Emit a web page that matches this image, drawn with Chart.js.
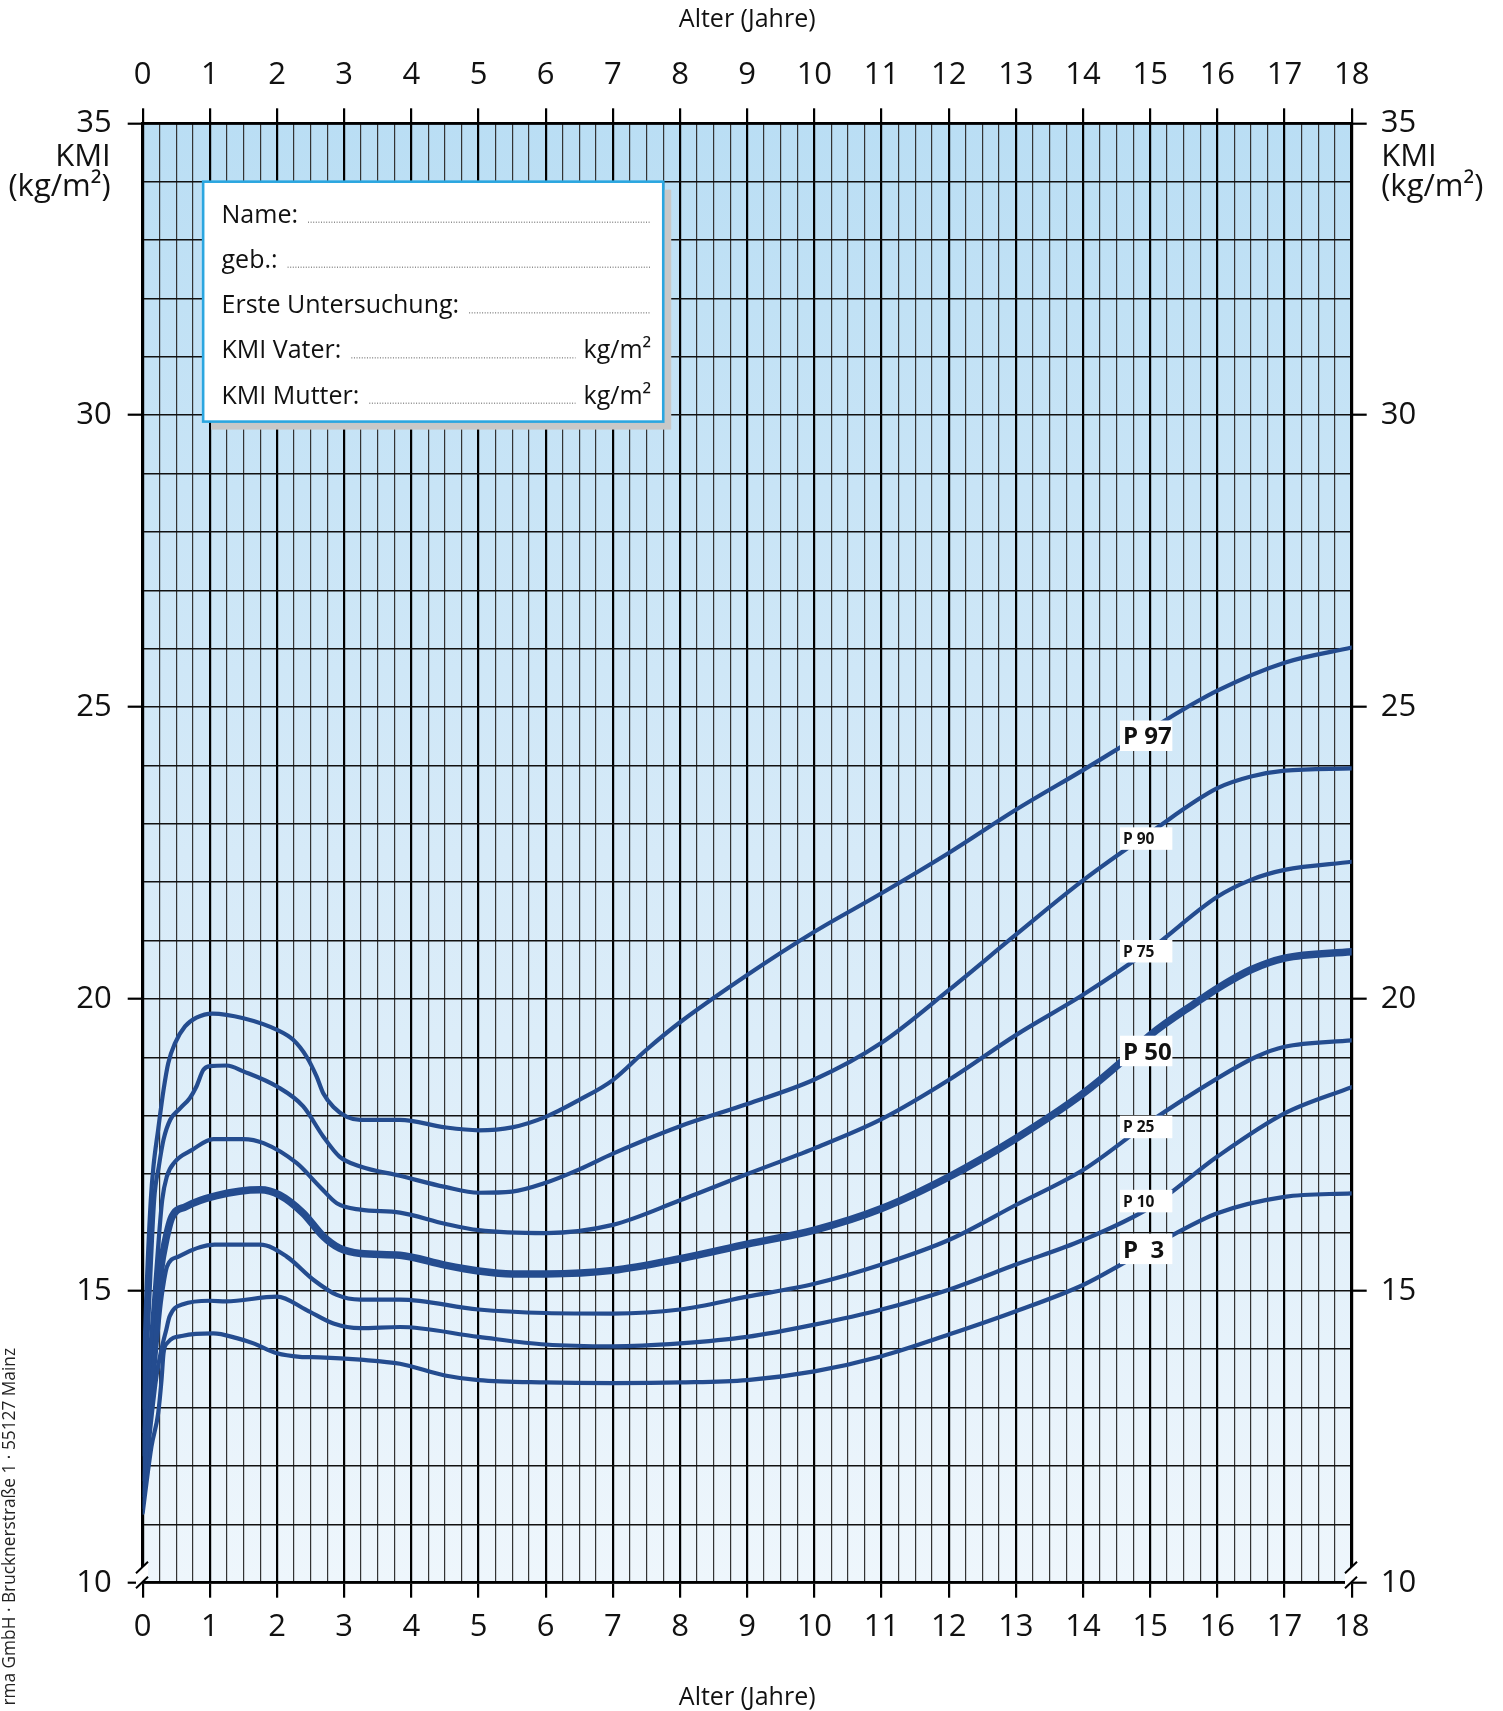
<!DOCTYPE html>
<html>
<head>
<meta charset="utf-8">
<script src="https://cdn.jsdelivr.net/npm/chart.js@4.4.1/dist/chart.umd.min.js"></script>
<style>
html,body{margin:0;padding:0;background:#fff;}
#wrap{position:relative;width:1503px;height:1711px;}
</style>
</head>
<body>
<div id="wrap"><canvas id="c"></canvas></div>
<script>
// ---------------- DATA ----------------
const ageTickLabels = [0,1,2,3,4,5,6,7,8,9,10,11,12,13,14,15,16,17,18];
const bmiTickLabels = [10,15,20,25,30,35];
const axisTitle = 'Alter (Jahre)';
const yUnitLines = ['KMI', '(kg/m\u00B2)'];
const footerText = 'rma GmbH \u00B7 Brucknerstra\u00DFe 1 \u00B7 55127 Mainz';
const infoRows = ['Name:', 'geb.:', 'Erste Untersuchung:', 'KMI Vater:', 'KMI Mutter:'];
const infoUnits = ['', '', '', 'kg/m\u00B2', 'kg/m\u00B2'];

const percentileNames = ['P 97', 'P 90', 'P 75', 'P 50', 'P 25', 'P 10', 'P  3'];

const p97Age = [0,0.05,0.12,0.16,0.23,0.31,0.38,0.48,0.63,0.8,1.04,1.5,2.0,2.24,2.44,2.59,2.69,2.84,3.04,3.24,3.83,4.5,5,5.5,6,6.5,7,7.5,8,9,10,11,12,13,14,15,16,17,18];
const p97Bmi = [13.0,14.8,16.55,17.13,17.76,18.44,18.9,19.24,19.53,19.68,19.75,19.67,19.47,19.3,19.01,18.67,18.38,18.15,17.98,17.93,17.93,17.8,17.75,17.8,17.98,18.27,18.61,19.13,19.6,20.41,21.15,21.81,22.5,23.24,23.92,24.62,25.28,25.76,26.02];

const p90Age = [0,0.08,0.17,0.24,0.31,0.41,0.56,0.7,0.8,0.9,1.0,1.25,1.5,2.0,2.39,2.69,2.93,3.24,3.83,4.5,5,5.5,6,6.5,7,8,9,10,11,12,13,14,15,16,16.5,17,18];
const p90Bmi = [12.6,14.4,16.55,17.13,17.59,17.93,18.13,18.3,18.5,18.78,18.85,18.86,18.76,18.5,18.16,17.64,17.3,17.13,16.97,16.78,16.68,16.7,16.85,17.08,17.35,17.82,18.2,18.62,19.25,20.15,21.1,22.03,22.85,23.61,23.81,23.91,23.95];

const p75Age = [0,0.1,0.2,0.29,0.36,0.48,0.73,1.05,1.5,1.8,2.29,2.64,2.89,3.24,3.83,4.5,5,6,7,8,9,10,11,12,13,14,15,16,16.5,17,18];
const p75Bmi = [12.2,13.8,15.3,16.55,16.96,17.21,17.41,17.6,17.6,17.53,17.19,16.78,16.5,16.39,16.34,16.15,16.04,15.99,16.13,16.55,17.0,17.44,17.94,18.61,19.38,20.07,20.85,21.75,22.04,22.21,22.35];

const p50Age = [0,0.1,0.2,0.27,0.33,0.43,0.64,1.1,1.75,2.04,2.39,2.69,2.93,3.24,3.83,4.5,5,5.5,6,7,8,9,10,11,12,13,14,14.55,15,15.7,16,16.5,17,18];
const p50Bmi = [11.8,13.3,14.6,15.4,15.8,16.25,16.44,16.63,16.73,16.64,16.33,15.93,15.73,15.64,15.61,15.44,15.34,15.29,15.29,15.35,15.55,15.8,16.04,16.41,16.95,17.61,18.38,18.9,19.38,19.95,20.18,20.5,20.7,20.81];

const p25Age = [0,0.1,0.2,0.27,0.32,0.36,0.54,1.07,1.75,2.14,2.54,2.89,3.24,3.83,5,6,7,8,9,10,11,12,13,14,15,16,16.58,17,18];
const p25Bmi = [11.5,12.8,14.0,14.8,15.19,15.41,15.59,15.79,15.79,15.59,15.19,14.93,14.85,14.85,14.68,14.62,14.61,14.68,14.9,15.12,15.45,15.87,16.47,17.07,17.9,18.64,19.01,19.18,19.29];

const p10Age = [0,0.1,0.2,0.28,0.35,0.4,0.6,1.0,1.24,2.0,2.44,2.84,3.24,3.83,5,6,7,8,9,10,11,12,13,14,15,16,17,18];
const p10Bmi = [11.3,12.5,13.5,14.0,14.33,14.56,14.77,14.83,14.82,14.9,14.67,14.44,14.36,14.38,14.21,14.08,14.05,14.1,14.21,14.42,14.68,15.02,15.45,15.87,16.43,17.3,18.04,18.49];

const p3Age = [0,0.13,0.23,0.28,0.31,0.36,0.6,1.05,1.4,1.65,2.0,2.34,2.64,3.24,3.83,4.5,5,6,7,8,9,10,11,12,13,14,14.55,15.34,16,17,18];
const p3Bmi = [11.2,12.33,12.9,13.47,13.93,14.1,14.23,14.27,14.19,14.1,13.93,13.87,13.86,13.82,13.75,13.55,13.47,13.43,13.42,13.43,13.47,13.62,13.88,14.25,14.65,15.1,15.44,15.96,16.33,16.61,16.67];

// label placement in data units (age span of label boxes, BMI at box top)
const labelAgeSpan = [14.55, 15.33];
const labelTopBmi = [24.77, 22.94, 21.01, 19.37, 18.0, 16.73, 15.98];
// info box placement in data units
const infoBoxAge = [0.9, 7.75];
const infoBoxBmi = [34.0, 29.89];

// ---------------- STYLE ----------------
const FONT = '"Open Sans", "Noto Sans", "DejaVu Sans", sans-serif';
const INK = '#111';
const CURVE = '#244c8f';
const AX = {left:142.7, right:151.3, top:123.3, bottom:128.3};
const isInt = v => Math.abs(v - Math.round(v)) < 1e-6;
const isFive = v => isInt(v) && Math.round(v) % 5 === 0;

const series = [
  [p97Age, p97Bmi], [p90Age, p90Bmi], [p75Age, p75Bmi], [p50Age, p50Bmi],
  [p25Age, p25Bmi], [p10Age, p10Bmi], [p3Age, p3Bmi]
];
const datasets = series.map((s, i) => ({
  label: percentileNames[i],
  data: s[0].map((a, k) => ({x: a, y: s[1][k]})),
  borderColor: CURVE,
  backgroundColor: CURVE,
  borderWidth: percentileNames[i] === 'P 50' ? 7.5 : 4.2,
  pointRadius: 0,
  fill: false,
  cubicInterpolationMode: 'monotone',
  borderJoinStyle: 'round',
  borderCapStyle: 'round'
}));

const xTickLabel = v => (isInt(v) && ageTickLabels.includes(Math.round(v))) ? String(Math.round(v)) : '';
const yTickLabel = v => (isInt(v) && bmiTickLabels.includes(Math.round(v))) ? String(Math.round(v)) : '';

function xAxis(position, pad, titlePad) {
  return {
    type: 'linear', position, min: 0, max: 18,
    afterFit: s => { s.height = position === 'top' ? AX.top : AX.bottom; },
    ticks: { autoSkip: false, maxRotation: 0, minRotation: 0, stepSize: 0.25, padding: pad,
      callback: xTickLabel, color: INK, font: {family: FONT, size: 31} },
    grid: {
      drawOnChartArea: position === 'bottom',
      color: c => isInt(c.tick.value) ? '#000' : '#333',
      lineWidth: c => isInt(c.tick.value) ? 2.2 : 1.2,
      tickLength: 15,
      tickColor: c => isInt(c.tick.value) ? '#000' : 'rgba(0,0,0,0)',
      tickWidth: 2.2
    },
    border: { display: true, color: '#000', width: 2.8 },
    title: { display: true, text: axisTitle, color: INK, font: {family: FONT, size: 25}, padding: titlePad }
  };
}
function yAxis(position, pad) {
  return {
    type: 'linear', position, min: 10, max: 35,
    afterFit: s => { s.width = position === 'left' ? AX.left : AX.right; },
    ticks: { autoSkip: false, stepSize: 1, padding: pad, callback: yTickLabel, color: INK,
      font: {family: FONT, size: 31} },
    grid: {
      drawOnChartArea: position === 'left',
      color: '#111',
      lineWidth: 1.4,
      tickLength: 15,
      tickColor: c => isFive(c.tick.value) ? '#000' : 'rgba(0,0,0,0)',
      tickWidth: 2.2
    },
    border: { display: true, color: '#000', width: 2.8 }
  };
}

const bgPlugin = {
  id: 'bg',
  beforeDraw(chart) {
    const {ctx, chartArea: a} = chart;
    ctx.save();
    ctx.fillStyle = '#fff';
    ctx.fillRect(0, 0, chart.width, chart.height);
    const g = ctx.createLinearGradient(0, a.top, 0, a.bottom);
    g.addColorStop(0, '#badef4');
    g.addColorStop(0.5, '#d6eaf8');
    g.addColorStop(1, '#eef6fc');
    ctx.fillStyle = g;
    ctx.fillRect(a.left, a.top, a.right - a.left, a.bottom - a.top);
    ctx.restore();
  }
};

const overlayPlugin = {
  id: 'overlay',
  afterDraw(chart) {
    const {ctx, chartArea: a} = chart;
    const xs = chart.scales.x, ys = chart.scales.y;
    ctx.save();

    // percentile labels
    const lx0 = xs.getPixelForValue(labelAgeSpan[0]);
    const lx1 = xs.getPixelForValue(labelAgeSpan[1]);
    percentileNames.forEach((name, i) => {
      const big = name === 'P 97' || name === 'P 50' || name === 'P  3';
      const top = ys.getPixelForValue(labelTopBmi[i]);
      const h = big ? 30.5 : 22.5;
      ctx.fillStyle = '#fff';
      ctx.fillRect(lx0, top, lx1 - lx0, h);
      ctx.fillStyle = '#111';
      ctx.font = 'bold ' + (big ? 24 : 15.5) + 'px ' + FONT;
      ctx.textAlign = 'left';
      ctx.textBaseline = 'alphabetic';
      ctx.fillText(name, lx0 + 3, top + (big ? 24 : 16.8));
    });

    // info box
    const bx0 = xs.getPixelForValue(infoBoxAge[0]), bx1 = xs.getPixelForValue(infoBoxAge[1]);
    const by0 = ys.getPixelForValue(infoBoxBmi[0]), by1 = ys.getPixelForValue(infoBoxBmi[1]);
    ctx.fillStyle = '#c8c8c8';
    ctx.fillRect(bx0 + 8, by0 + 8, bx1 - bx0, by1 - by0);
    ctx.fillStyle = '#fff';
    ctx.fillRect(bx0, by0, bx1 - bx0, by1 - by0);
    ctx.strokeStyle = '#2ba6e0';
    ctx.lineWidth = 2.6;
    ctx.strokeRect(bx0, by0, bx1 - bx0, by1 - by0);
    const rowBase = [41, 86, 131.7, 176.7, 222];
    ctx.font = '25px ' + FONT;
    ctx.textBaseline = 'alphabetic';
    infoRows.forEach((t, i) => {
      const y = by0 + rowBase[i];
      const tx = bx0 + 18.4;
      ctx.fillStyle = '#111';
      ctx.textAlign = 'left';
      ctx.fillText(t, tx, y);
      const start = tx + ctx.measureText(t).width + 10;
      let end = bx1 - 13;
      if (infoUnits[i]) {
        ctx.textAlign = 'right';
        ctx.fillText(infoUnits[i], bx1 - 12, y);
        end = bx1 - 12 - ctx.measureText(infoUnits[i]).width - 8;
      }
      ctx.save();
      ctx.strokeStyle = '#555';
      ctx.lineWidth = 1;
      ctx.setLineDash([1, 1.6]);
      ctx.beginPath();
      ctx.moveTo(start, y - 0.5);
      ctx.lineTo(end, y - 0.5);
      ctx.stroke();
      ctx.restore();
    });

    // axis break marks at BMI 10
    const yb = ys.getPixelForValue(10);
    [xs.getPixelForValue(0), xs.getPixelForValue(18)].forEach(x => {
      ctx.fillStyle = '#fff';
      ctx.beginPath();
      ctx.moveTo(x - 6.7, yb - 9.4);
      ctx.lineTo(x + 5.3, yb - 21);
      ctx.lineTo(x + 5.3, yb - 6);
      ctx.lineTo(x - 6.7, yb + 5.6);
      ctx.closePath();
      ctx.fill();
      ctx.strokeStyle = '#000';
      ctx.lineWidth = 2;
      ctx.beginPath();
      ctx.moveTo(x - 6.7, yb - 9.4); ctx.lineTo(x + 5.3, yb - 21);
      ctx.moveTo(x - 6.7, yb + 5.6); ctx.lineTo(x + 5.3, yb - 6);
      ctx.stroke();
    });

    // unit labels under "35"
    const y35 = ys.getPixelForValue(35);
    ctx.fillStyle = INK;
    ctx.font = '31px ' + FONT;
    ctx.textBaseline = 'middle';
    ctx.textAlign = 'right';
    ctx.fillText(yUnitLines[0], a.left - 32, y35 + 33.5);
    ctx.fillText(yUnitLines[1], a.left - 32, y35 + 64);
    ctx.textAlign = 'left';
    ctx.fillText(yUnitLines[0], a.right + 29.5, y35 + 33.5);
    ctx.fillText(yUnitLines[1], a.right + 29.5, y35 + 64);

    // vertical imprint on the left edge
    ctx.save();
    ctx.translate(15, 1348);
    ctx.rotate(-Math.PI / 2);
    ctx.font = '17.3px ' + FONT;
    ctx.fillStyle = '#222';
    ctx.textAlign = 'right';
    ctx.textBaseline = 'alphabetic';
    ctx.fillText(footerText, 0, 0);
    ctx.restore();

    ctx.restore();
  }
};

new Chart(document.getElementById('c'), {
  type: 'line',
  data: { datasets },
  options: {
    responsive: true,
    maintainAspectRatio: false,
    animation: false,
    events: [],
    layout: { padding: 0 },
    plugins: { legend: {display: false}, tooltip: {enabled: false}, title: {display: false} },
    scales: {
      x: xAxis('bottom', 11, {top: 0, bottom: -2}),
      x2: xAxis('top', 15, {top: 5, bottom: 0}),
      y: yAxis('left', 16),
      y2: yAxis('right', 14)
    }
  },
  plugins: [bgPlugin, overlayPlugin]
});
</script>
</body>
</html>
